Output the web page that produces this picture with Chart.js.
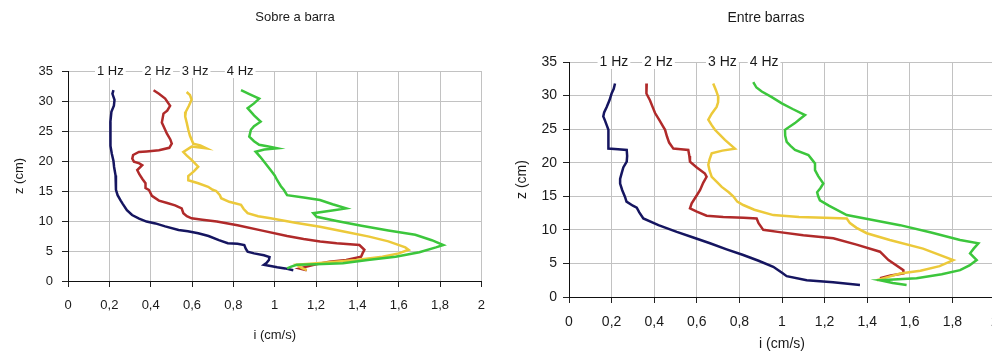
<!DOCTYPE html>
<html>
<head>
<meta charset="utf-8">
<script src="https://cdn.jsdelivr.net/npm/chart.js@4.4.1/dist/chart.umd.min.js"></script>
<style>
  html, body { margin: 0; padding: 0; background: #fff; overflow: hidden; width: 992px; height: 353px; }
  .panel { position: absolute; top: 0; }
</style>
</head>
<body>
<div class="panel" style="left:0"><canvas id="sobre" width="496" height="353"></canvas></div>
<div class="panel" style="left:496px"><canvas id="entre" width="530" height="353"></canvas></div>
<script>
// series names and colours
var seriesNames = ['1 Hz', '2 Hz', '3 Hz', '4 Hz'];
var seriesColors = ['#151560', '#b02a2a', '#ecc93a', '#3cc63c'];

// tick values
var xTicks = [0, 0.2, 0.4, 0.6, 0.8, 1, 1.2, 1.4, 1.6, 1.8, 2];
var zTicks = [0, 5, 10, 15, 20, 25, 30, 35];

// "Sobre a barra" profiles, [i (cm/s), z (cm)]
var sobre1Hz = [[0.22,31.8],[0.215,31.2],[0.225,30.2],[0.222,29.2],[0.21,28.2],[0.205,26.5],[0.204,24.6],[0.207,22.5],[0.212,21.2],[0.22,20],[0.223,19],[0.23,17.6],[0.232,16.2],[0.232,15.2],[0.24,14.3],[0.255,13.4],[0.264,12.9],[0.285,11.8],[0.31,11],[0.344,10.4],[0.38,9.9],[0.423,9.6],[0.47,9.1],[0.535,8.5],[0.58,8.3],[0.63,7.95],[0.68,7.5],[0.73,6.8],[0.773,6.3],[0.82,6.2],[0.853,6.0],[0.86,5.4],[0.869,4.9],[0.9,4.6],[0.948,4.3],[0.975,4.0],[0.972,3.5],[0.96,3.0],[0.948,2.7],[0.98,2.5],[1.012,2.3],[1.05,2.1],[1.09,1.8]];
var sobre2Hz = [[0.414,31.8],[0.44,31.2],[0.47,30.4],[0.494,29.2],[0.48,28.4],[0.462,27.9],[0.454,26.4],[0.47,25.2],[0.478,24.6],[0.495,23.6],[0.502,22.9],[0.49,22.2],[0.44,21.8],[0.38,21.6],[0.343,21.5],[0.315,21],[0.311,20.4],[0.319,19.9],[0.345,19.6],[0.359,19.3],[0.335,18.5],[0.345,17.8],[0.36,17],[0.375,16.3],[0.375,15.5],[0.391,15.2],[0.406,14.2],[0.44,13.4],[0.48,13],[0.518,12.6],[0.55,12.1],[0.558,11.3],[0.575,10.8],[0.598,10.45],[0.65,10.2],[0.72,9.9],[0.82,9.3],[0.94,8.4],[1.06,7.5],[1.14,7.0],[1.22,6.6],[1.3,6.3],[1.41,6.0],[1.434,5.2],[1.425,4.6],[1.418,4.05],[1.346,3.5],[1.265,3.2],[1.2,2.8],[1.12,2.1],[1.155,1.8]];
var sobre3Hz = [[0.574,31.5],[0.59,31],[0.598,30.2],[0.585,29.2],[0.57,28.2],[0.567,27.4],[0.575,26.3],[0.582,25.2],[0.59,24.2],[0.606,22.9],[0.64,22.6],[0.67,22.1],[0.598,22.4],[0.558,21.5],[0.575,20.9],[0.598,20.2],[0.63,19.05],[0.61,18.3],[0.582,17.5],[0.582,16.8],[0.63,16.3],[0.678,15.7],[0.7,15.2],[0.717,15.0],[0.735,14.3],[0.741,13.8],[0.78,13.2],[0.837,12.7],[0.85,12],[0.869,11.3],[0.92,10.8],[0.98,10.45],[1.1,9.7],[1.219,9.05],[1.34,8.2],[1.457,7.4],[1.55,6.6],[1.632,5.6],[1.648,5.2],[1.6,4.6],[1.521,4.05],[1.394,3.5],[1.25,3.1],[1.107,2.7],[1.13,2.2],[1.155,1.8]];
var sobre4Hz = [[0.837,31.8],[0.88,31.1],[0.925,30.4],[0.9,29.6],[0.869,28.8],[0.9,27.6],[0.932,26.55],[0.9,25.8],[0.885,25.2],[0.877,24.05],[0.9,23.3],[0.925,22.7],[0.97,22.4],[1.012,22.1],[0.95,21.9],[0.908,21.55],[0.93,20.7],[0.948,19.9],[0.98,18.5],[1.0,17.6],[1.012,16.8],[1.03,15.8],[1.044,15.2],[1.06,14.3],[1.14,13.9],[1.219,13.5],[1.28,12.8],[1.346,12.1],[1.27,11.7],[1.187,11.3],[1.203,10.7],[1.3,10.0],[1.42,9.2],[1.55,8.4],[1.68,7.7],[1.76,6.8],[1.816,6.0],[1.78,5.6],[1.7,4.8],[1.585,4.05],[1.45,3.5],[1.33,2.95],[1.2,2.8],[1.107,2.7],[1.08,2.4],[1.06,2.1]];

// "Entre barras" profiles, [i (cm/s), z (cm)]
var entre1Hz = [[0.216,31.8],[0.21,31],[0.2,30.3],[0.19,29.3],[0.177,28.3],[0.165,27.5],[0.161,26.9],[0.17,26.2],[0.177,25.6],[0.185,24.9],[0.185,23.5],[0.185,22.1],[0.23,22.0],[0.271,21.9],[0.273,21],[0.271,20.15],[0.255,19.3],[0.247,18.4],[0.24,17.6],[0.24,16.9],[0.25,15.9],[0.263,14.9],[0.27,14.2],[0.3,13.6],[0.318,13.3],[0.33,12.6],[0.349,11.7],[0.42,10.7],[0.506,9.7],[0.58,8.9],[0.662,8.0],[0.74,7.1],[0.818,6.26],[0.89,5.4],[0.959,4.5],[1.0,3.6],[1.022,3.1],[1.116,2.5],[1.24,2.2],[1.366,1.8]];
var entre2Hz = [[0.365,31.8],[0.362,31],[0.365,30.3],[0.38,29.3],[0.39,28.5],[0.404,27.4],[0.425,26.3],[0.44,25.5],[0.451,24.9],[0.46,23.9],[0.47,23.0],[0.49,22.1],[0.525,22.0],[0.56,21.9],[0.565,21],[0.568,20.15],[0.6,19.3],[0.638,18.4],[0.646,17.9],[0.63,17],[0.615,15.9],[0.595,14.9],[0.576,13.95],[0.568,13.2],[0.6,12.7],[0.646,12.1],[0.724,11.9],[0.82,11.8],[0.881,11.7],[0.89,11.0],[0.912,10.0],[0.98,9.7],[1.1,9.2],[1.241,8.74],[1.35,7.8],[1.46,6.75],[1.5,5.5],[1.57,4.0],[1.57,3.5],[1.51,3.2],[1.46,2.8]];
var entre3Hz = [[0.677,31.8],[0.69,30.8],[0.701,29.8],[0.7,29],[0.693,28.3],[0.67,27.3],[0.654,26.4],[0.67,25.6],[0.685,24.9],[0.71,24.1],[0.732,23.4],[0.779,22.1],[0.72,21.8],[0.67,21.4],[0.66,20.5],[0.654,19.7],[0.66,18.8],[0.67,17.9],[0.695,17.1],[0.717,16.4],[0.75,15.6],[0.771,15.0],[0.79,14.2],[0.818,13.7],[0.87,13.0],[0.959,12.2],[1.08,11.9],[1.2,11.8],[1.304,11.7],[1.319,11.0],[1.35,10.3],[1.398,9.5],[1.506,8.5],[1.662,7.2],[1.804,5.5],[1.74,4.6],[1.65,3.9],[1.554,3.5],[1.5,3.0],[1.445,2.5]];
var entre4Hz = [[0.865,32.0],[0.88,31.2],[0.905,30.6],[0.95,29.8],[0.999,28.85],[1.05,28.0],[1.108,27.1],[1.08,26.4],[1.061,25.9],[1.014,24.9],[1.015,24],[1.022,23.1],[1.04,22.5],[1.061,21.9],[1.124,21.15],[1.14,20.5],[1.155,19.9],[1.155,18.9],[1.17,18],[1.194,16.9],[1.18,16.2],[1.165,15.6],[1.17,15],[1.178,14.4],[1.22,13.6],[1.304,12.2],[1.42,11.5],[1.554,10.7],[1.7,9.6],[1.836,8.5],[1.922,8.0],[1.9,7.2],[1.883,6.5],[1.914,5.5],[1.88,4.7],[1.836,4.0],[1.75,3.4],[1.632,2.8],[1.46,2.5],[1.52,2.1],[1.585,1.8]];

var FONT = 'Liberation Sans, Arial, sans-serif';
var TEXT = '#1a1a1a';

function toPoints(arr) {
    return arr.map(function (p) { return { x: p[0], y: p[1] }; });
}

function makeDatasets(list) {
    return list.map(function (arr, i) {
        return {
            label: seriesNames[i],
            data: toPoints(arr),
            showLine: true,
            borderColor: seriesColors[i],
            backgroundColor: seriesColors[i],
            borderWidth: 2.5,
            pointRadius: 0,
            tension: 0,
            order: 4 - i
        };
    });
}

function fmtTick(v) {
    return String(Math.round(v * 10) / 10).replace('.', ',');
}

// draws the panel title and the "n Hz" labels sitting on the top gridline
var panelText = {
    id: 'panelText',
    afterDatasetsDraw: function (chart, args, opts) {
        var ctx = chart.ctx;
        var xs = chart.scales.x, ys = chart.scales.y;
        ctx.save();
        ctx.font = opts.size + 'px ' + FONT;
        ctx.textBaseline = 'middle';
        ctx.textAlign = 'center';
        var py = ys.getPixelForValue(opts.labelZ);
        for (var i = 0; i < seriesNames.length; i++) {
            var px = xs.getPixelForValue(opts.labelAt[i]);
            var w = ctx.measureText(seriesNames[i]).width;
            ctx.fillStyle = '#fff';
            ctx.fillRect(px - w / 2 - 2, py - 7, w + 4, 14);
            ctx.fillStyle = TEXT;
            ctx.fillText(seriesNames[i], px, py);
        }
        ctx.fillText(opts.title, opts.titleX, opts.titleY);
        ctx.restore();
    }
};

function makeChart(id, data, o) {
    return new Chart(document.getElementById(id), {
        type: 'scatter',
        data: { datasets: makeDatasets(data) },
        plugins: [panelText],
        options: {
            responsive: false,
            animation: false,
            layout: { padding: { left: 0, top: o.top, right: o.right, bottom: 0 } },
            plugins: {
                legend: { display: false },
                tooltip: { enabled: false },
                title: { display: false },
                panelText: {
                    title: o.title, titleX: o.titleX, titleY: o.titleY,
                    labelAt: o.labelAt, labelZ: 35, size: o.size
                }
            },
            scales: {
                x: {
                    type: 'linear', min: 0, max: 2,
                    afterBuildTicks: function (s) { s.ticks = xTicks.map(function (v) { return { value: v }; }); },
                    afterFit: function (s) { s.height = o.xHeight; },
                    grid: { color: '#c2c2c2', tickColor: '#222', tickLength: 6 },
                    border: { color: '#111', width: 1 },
                    ticks: {
                        color: TEXT, font: { family: FONT, size: o.size }, padding: o.xPad,
                        maxRotation: 0, autoSkip: false, callback: fmtTick
                    },
                    title: {
                        display: true, text: 'i (cm/s)', color: TEXT,
                        font: { family: FONT, size: o.size }, padding: { top: 0, bottom: o.xTitlePad }
                    }
                },
                y: {
                    type: 'linear', min: 0, max: 35,
                    afterBuildTicks: function (s) { s.ticks = zTicks.map(function (v) { return { value: v }; }); },
                    afterFit: function (s) { s.width = o.yWidth; },
                    grid: { color: '#c2c2c2', tickColor: '#222', tickLength: 6 },
                    border: { color: '#111', width: 1 },
                    ticks: { color: TEXT, font: { family: FONT, size: o.size }, padding: o.yPad, autoSkip: false },
                    title: {
                        display: true, text: 'z (cm)', color: TEXT,
                        font: { family: FONT, size: o.size }, padding: { top: o.yTitlePad, bottom: 0 }
                    }
                }
            }
        }
    });
}

var sobreChart = makeChart('sobre', [sobre1Hz, sobre2Hz, sobre3Hz, sobre4Hz], {
    title: 'Sobre a barra', titleX: 295, titleY: 17,
    labelAt: [0.205, 0.434, 0.615, 0.833],
    top: 71, right: 9, xHeight: 72, yWidth: 68,
    xPad: 11, xTitlePad: 10, yPad: 9, yTitlePad: 12, size: 13
});

var entreChart = makeChart('entre', [entre1Hz, entre2Hz, entre3Hz, entre4Hz], {
    title: 'Entre barras', titleX: 270, titleY: 18,
    labelAt: [0.211, 0.42, 0.72, 0.916],
    top: 62, right: 31, xHeight: 56, yWidth: 73,
    xPad: 11, xTitlePad: 0, yPad: 6, yTitlePad: 18, size: 14
});
</script>
</body>
</html>
